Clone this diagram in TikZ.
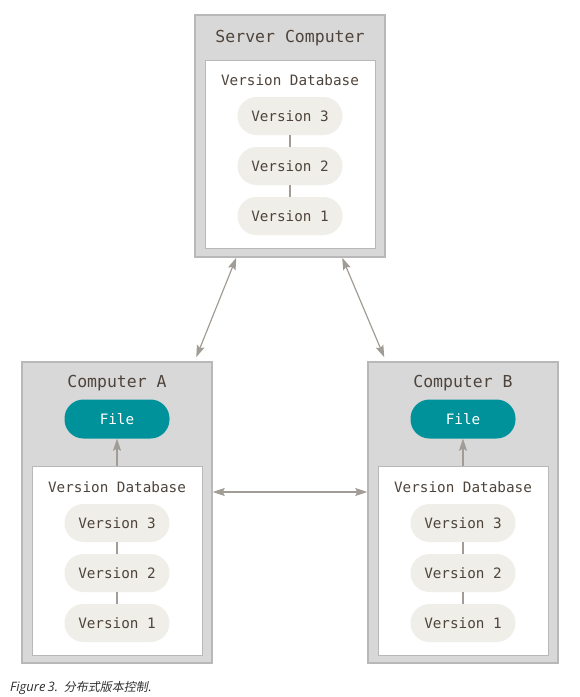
\documentclass[tikz,border=0pt]{standalone}
\usepackage{fontspec}
\setmonofont{DejaVu Sans Mono}
\newfontfamily\capfont{Open Sans}
\newfontfamily\cjk[FakeSlant=0.2]{Noto Sans CJK SC}
\usetikzlibrary{arrows.meta}
\usetikzlibrary{positioning}
\definecolor{boxgray}{HTML}{D8D8D8}
\definecolor{edgegray}{HTML}{B8B8B8}
\definecolor{pill}{HTML}{EFEEE8}
\definecolor{txt}{HTML}{4E443C}
\definecolor{linegray}{HTML}{A29C96}
\definecolor{tealfile}{HTML}{00929A}
\definecolor{capgray}{HTML}{2E2E2E}

\begin{document}
\begin{tikzpicture}[x=1pt, y=-1pt, >={Stealth[length=12pt,width=8pt,inset=2pt]},
	outer/.style={draw=edgegray, line width=1.5pt, fill=boxgray, minimum width=190pt, inner sep=0pt},
	inner/.style={draw=edgegray, line width=1pt, fill=white, minimum width=170pt, minimum height=188pt, inner sep=0pt},
	title/.style={font=\ttfamily\fontsize{16.5}{18}\selectfont, text=txt},
	dbtext/.style={font=\ttfamily\fontsize{14.3}{16}\selectfont, text=txt},
	version/.style={dbtext, rounded corners=19pt, fill=pill, minimum width=105pt, minimum height=38pt, inner sep=0pt},
	filepill/.style={version, fill=tealfile, text=white, minimum height=39pt},
	link/.style={draw=linegray, line width=1.2pt}]
		\useasboundingbox (0,0) rectangle (580,697);

		% server
		\node[outer, minimum height=242pt] (server) at (290,136) {};
		\node[inner] (dbS) at (290,154) {};
		\node[title] (tS) at (290,38) {Server Computer};
		\node[dbtext] (lS) at (290,80) {Version Database};
		\node[version] (s3) at (290,116) {Version 3};
		\node[version] (s2) at (290,166) {Version 2};
		\node[version] (s1) at (290,216) {Version 1};
		\draw[link] (s3.south) -- (s2.north);
		\draw[link] (s2.south) -- (s1.north);

		% computer A
		\node[outer, minimum height=301pt] (compA) at (117,512.5) {};
		\node[inner, minimum height=189pt] (dbA) at (117,560.5) {};
		\node[title] (tA) at (117,383) {Computer A};
		\node[filepill] (fileA) at (117,419) {File};
		\node[dbtext] (lA) at (117,487) {Version Database};
		\node[version] (a3) at (117,523) {Version 3};
		\node[version] (a2) at (117,573) {Version 2};
		\node[version] (a1) at (117,623) {Version 1};
		\draw[link] (a3.south) -- (a2.north);
		\draw[link] (a2.south) -- (a1.north);
		\draw[link,->] (dbA.north) -- (fileA.south);

		% computer B
		\node[outer, minimum height=301pt] (compB) at (463,512.5) {};
		\node[inner, minimum height=189pt] (dbB) at (463,560.5) {};
		\node[title] (tB) at (463,383) {Computer B};
		\node[filepill] (fileB) at (463,419) {File};
		\node[dbtext] (lB) at (463,487) {Version Database};
		\node[version] (b3) at (463,523) {Version 3};
		\node[version] (b2) at (463,573) {Version 2};
		\node[version] (b1) at (463,623) {Version 1};
		\draw[link] (b3.south) -- (b2.north);
		\draw[link] (b2.south) -- (b1.north);
		\draw[link,->] (dbB.north) -- (fileB.south);

		% sync arrows
		\coordinate (sa) at ([xshift=42pt]server.south west);
		\coordinate (as) at ([xshift=175pt,yshift=4pt]compA.north west);
		\coordinate (sb) at ([xshift=148pt]server.south west);
		\coordinate (bs) at ([xshift=17pt,yshift=4pt]compB.north west);
		\draw[link,<->] (sa) -- (as);
		\draw[link,<->] (sb) -- (bs);
		\draw[link,<->] ([yshift=20.5pt]compA.east) -- ([yshift=20.5pt]compB.west);

		\node[anchor=west, inner sep=0pt, text=capgray, font=\fontsize{13}{15}\selectfont] (caption) at (10,688)
			{{\capfont\itshape Figure\,3.} {\cjk\fontsize{12}{14}\selectfont 分布式版本控制.}};
	\end{tikzpicture}
\end{document}
